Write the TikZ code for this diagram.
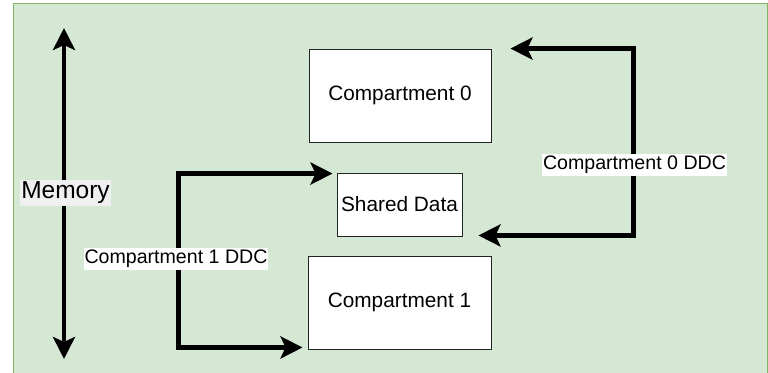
\documentclass[tikz,border=0pt]{standalone}
\usepackage{fontspec}
\setmainfont{Liberation Sans}
\usetikzlibrary{arrows.meta,calc}
\definecolor{bggreen}{HTML}{D5E8D4}
\definecolor{bgedge}{HTML}{82B366}
\definecolor{boxedge}{HTML}{222222}
\tikzset{
  box/.style={draw=boxedge, line width=0.9pt, fill=white, inner sep=0pt,
    font=\fontsize{20.8}{24}\selectfont, text=black},
  conn/.style={line width=4.5pt, draw=black,
    {Stealth[length=22pt,width=22pt,inset=5pt]}-{Stealth[length=22pt,width=22pt,inset=5pt]}},
  tag/.style={fill=white, inner xsep=1pt, inner ysep=2pt,
    font=\fontsize{19.6}{22}\selectfont, text=black},
}
\begin{document}
\begin{tikzpicture}[x=1pt,y=-1pt]
  \useasboundingbox (0,0) rectangle (768,372);
  % green backdrop
  \fill[bggreen] (13,3) rectangle (767,385);
  \draw[bgedge, line width=1pt] (13,385) -- (13,3) -- (767,3) -- (767,385);

  % compartments and shared region
  \node[box, minimum width=182pt, minimum height=93pt] (c0) at (400,95.5) {Compartment 0};
  \node[box, minimum width=125pt, minimum height=63pt] (sd) at (399.5,204.5) {Shared Data};
  \node[box, minimum width=183pt, minimum height=93pt] (c1) at (399.5,302.5) {Compartment 1};

  % memory axis
  \coordinate (memtop) at (64,28);
  \coordinate (membot) at (64,359);
  \draw[conn] (memtop) -- (membot);
  \node[fill=gray!12, inner xsep=1pt, inner ysep=2pt, font=\fontsize{24.5}{27}\selectfont,
    text=black] (mem) at (65.5,193) {Memory};

  % compartment 1 domain data capability
  \coordinate (t1a) at ($(sd.north west)+(-4,1)$);
  \coordinate (t1b) at ($(c1.south west)+(-5,-2)$);
  \draw[conn] (t1a) -| ($(t1b)+(-124,0)$) -- (t1b);
  \node[tag] (ddc1) at (176,259) {Compartment 1 DDC};

  % compartment 0 domain data capability
  \coordinate (t0a) at ($(c0.north east)+(19,0)$);
  \coordinate (t0b) at ($(sd.south east)+(16,-1)$);
  \draw[conn] (t0a) -| ($(t0b)+(155,0)$) -- (t0b);
  \node[tag] (ddc0) at (634.5,165) {Compartment 0 DDC};
\end{tikzpicture}
\end{document}
